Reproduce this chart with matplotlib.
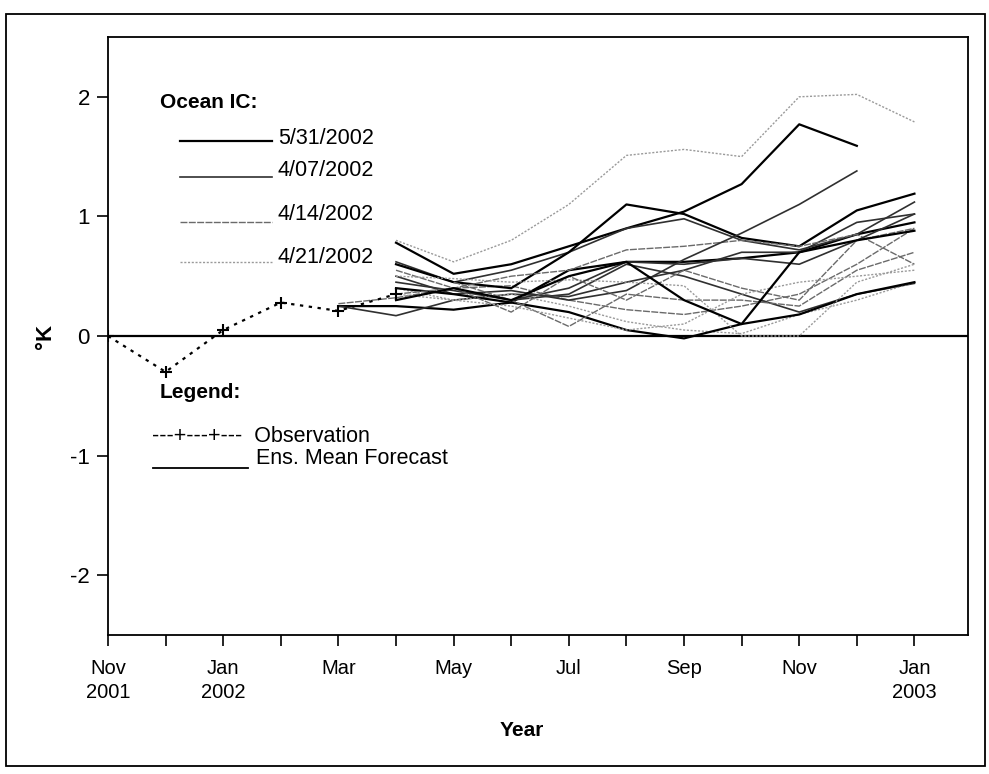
import numpy as np
import matplotlib
matplotlib.use("Agg")
import matplotlib.pyplot as plt
from matplotlib.patches import Rectangle
from matplotlib.lines import Line2D

plt.rcParams['font.family'] = ['Liberation Sans', 'DejaVu Sans']

# ---- data ----
month_labels = ['Nov\n2001', '', 'Jan\n2002', '', 'Mar', '', 'May', '', 'Jul', '',
                'Sep', '', 'Nov', '', 'Jan\n2003']
n_months = 15

obs_values = [0.0, -0.30, 0.05, 0.28, 0.21, 0.35]   # Nov 2001 .. Apr 2002

f01 = [0.25, 0.25, 0.22, 0.28, 0.55, 0.62, 0.62, 0.65, 0.70, 0.85, 0.95]
f02 = [0.25, 0.17, 0.30, 0.35, 0.33, 0.45, 0.55, 0.70, 0.70, 0.95, 1.02]
f03 = [0.27, 0.32, 0.40, 0.42, 0.30, 0.22, 0.18, 0.25, 0.35, 0.60, 0.90]
f04 = [0.80, 0.62, 0.80, 1.10, 1.51, 1.56, 1.50, 2.00, 2.02, 1.79]
f05 = [0.78, 0.52, 0.60, 0.75, 0.90, 1.04, 1.27, 1.77, 1.59]
f06 = [0.62, 0.45, 0.55, 0.70, 0.90, 0.98, 0.80, 0.72, 0.85, 1.12]
f07 = [0.60, 0.45, 0.40, 0.70, 1.10, 1.02, 0.82, 0.75, 1.05, 1.19]
f08 = [0.55, 0.40, 0.50, 0.55, 0.72, 0.75, 0.80, 0.75, 0.85, 0.60]
f09 = [0.50, 0.35, 0.38, 0.30, 0.38, 0.64, 0.86, 1.10, 1.38]
f10 = [0.45, 0.38, 0.30, 0.35, 0.60, 0.50, 0.35, 0.20, 0.35, 0.44]
f11 = [0.40, 0.30, 0.35, 0.25, 0.12, 0.05, 0.02, 0.18, 0.30, 0.45]
f12 = [0.40, 0.35, 0.28, 0.20, 0.05, -0.02, 0.10, 0.18, 0.35, 0.45]
f13 = [0.45, 0.30, 0.08, 0.35, 0.30, 0.30, 0.25, 0.55, 0.70]
f14 = [0.50, 0.48, 0.45, 0.47, 0.45, 0.42, 0.00, 0.00, 0.45, 0.60]
f15 = [0.30, 0.40, 0.62, 0.60, 0.65, 0.60, 0.80, 1.02]
f16 = [0.35, 0.40, 0.20, 0.50, 0.30, 0.55, 0.40, 0.30, 0.80, 0.90]
f17 = [0.35, 0.30, 0.25, 0.15, 0.05, 0.10, 0.35, 0.45, 0.50, 0.55]
f18 = [0.30, 0.40, 0.30, 0.50, 0.62, 0.30, 0.10, 0.70, 0.80, 0.88]

# (start month index, values, ocean IC group)
forecasts = [
    (4, f01, '5/31'), (4, f02, '4/07'), (4, f03, '4/14'),
    (5, f04, '4/21'), (5, f05, '5/31'), (5, f06, '4/07'),
    (5, f07, '5/31'), (5, f08, '4/14'), (5, f09, '4/07'),
    (5, f10, '4/07'), (5, f11, '4/21'), (5, f12, '5/31'),
    (6, f13, '4/14'), (5, f14, '4/21'), (7, f15, '4/07'),
    (5, f16, '4/14'), (5, f17, '4/21'), (5, f18, '5/31'),
]

ic_labels = ['5/31/2002', '4/07/2002', '4/14/2002', '4/21/2002']
styles = {
    '5/31': dict(color='black', lw=1.6, ls='-'),
    '4/07': dict(color='#303030', lw=1.2, ls='-'),
    '4/14': dict(color='#6a6a6a', lw=1.0, ls=(0, (5, 1))),
    '4/21': dict(color='#9a9a9a', lw=1.0, ls=(0, (1.5, 1.2))),
}

# ---- figure ----
W, H = 989, 774
fig = plt.figure(figsize=(W / 100, H / 100), dpi=100)

def fx(x):
    return x / W

def fy(y):
    return 1 - y / H

ax_l, ax_r, ax_t, ax_b = 108, 968, 37, 635
ax = fig.add_axes([fx(ax_l), fy(ax_b), fx(ax_r - ax_l), (ax_b - ax_t) / H])

# outer frame
fig.patches.append(Rectangle((fx(6), fy(766)), fx(985 - 6), (766 - 14) / H,
                             transform=fig.transFigure, fill=False,
                             edgecolor='black', lw=1.3))

x_all = np.arange(n_months)

ax.axhline(0, color='black', lw=1.6, zorder=1)

for start, vals, grp in forecasts:
    xs = np.arange(start, start + len(vals))
    ax.plot(xs, vals, zorder=2, **styles[grp])

ax.plot(np.arange(len(obs_values)), obs_values, color='black', lw=1.6,
        ls=(0, (1.5, 2.5)), marker='+', ms=8, mew=1.5, zorder=3)

ax.set_xlim(0, 14.93)
ax.set_ylim(-2.5, 2.5)
ax.set_yticks([-2, -1, 0, 1, 2])
ax.set_yticklabels(['-2', '-1', '0', '1', '2'], fontsize=16)
ax.set_xticks(x_all)
ax.set_xticklabels(month_labels, fontsize=14.5, linespacing=1.35)
ax.tick_params(axis='y', direction='out', length=8, width=1.2, pad=5)
ax.tick_params(axis='x', direction='out', length=8, width=1.2, pad=9)
for s in ax.spines.values():
    s.set_linewidth(1.3)

fig.text(fx(46), fy(336), '°K', rotation=90, fontsize=16, fontweight='bold',
         ha='center', va='center')
fig.text(fx(522), fy(731), 'Year', fontsize=15, fontweight='bold',
         ha='center', va='center')

# ---- Ocean IC legend (drawn as text + line samples) ----
fig.text(fx(160), fy(103), 'Ocean IC:', fontsize=15, fontweight='bold',
         ha='left', va='center')
leg_y_line = [141, 177, 222, 262]
leg_y_text = [139, 171, 215, 258]
groups = ['5/31', '4/07', '4/14', '4/21']
for g, lab, yl, yt in zip(groups, ic_labels, leg_y_line, leg_y_text):
    st = styles[g]
    fig.add_artist(Line2D([fx(180), fx(272)], [fy(yl), fy(yl)],
                          transform=fig.transFigure, color=st['color'],
                          lw=st['lw'], ls=st['ls']))
    fig.text(fx(278), fy(yt), lab, fontsize=15.5, ha='left', va='center')

fig.text(fx(160), fy(393), 'Legend:', fontsize=15, fontweight='bold',
         ha='left', va='center')
fig.text(fx(152), fy(436), '---+---+---  Observation', fontsize=15.5,
         ha='left', va='center')
fig.add_artist(Line2D([fx(153), fx(248)], [fy(468), fy(468)],
                      transform=fig.transFigure, color='black', lw=1.3))
fig.text(fx(256), fy(458), 'Ens. Mean Forecast', fontsize=15.5,
         ha='left', va='center')

fig.savefig('out.png', dpi=100)
